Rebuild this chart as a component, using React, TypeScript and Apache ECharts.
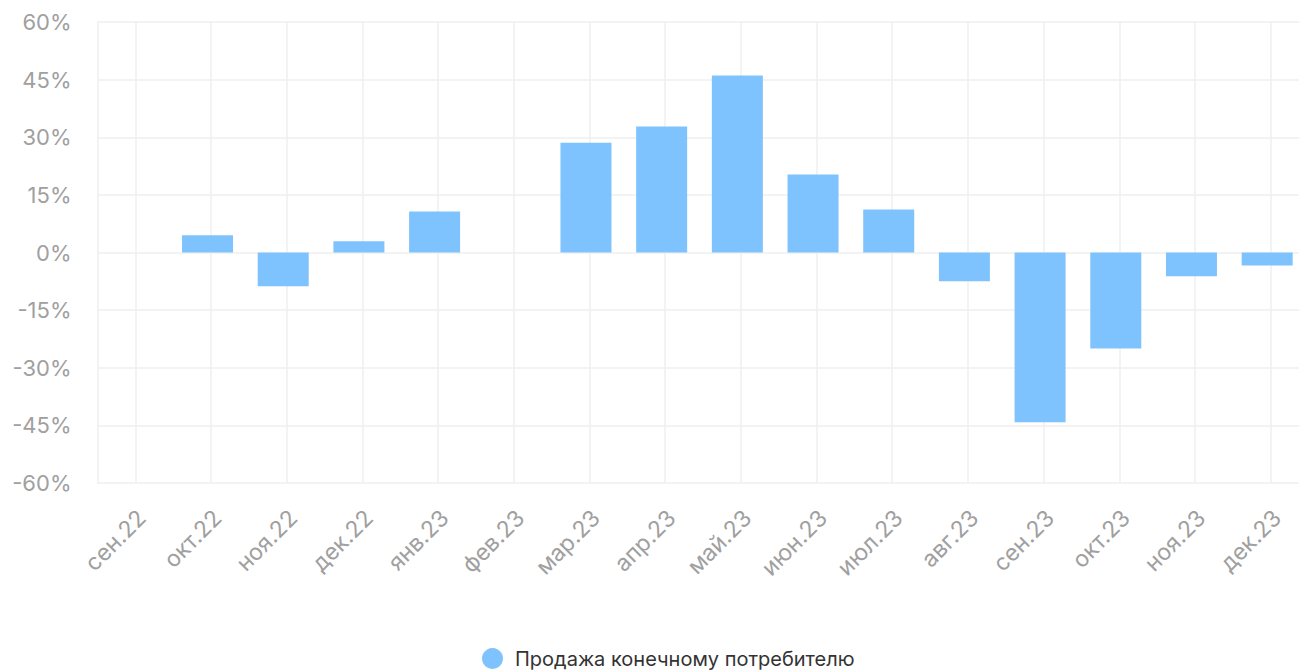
import React, { useEffect, useRef } from "react";
import * as echarts from "echarts";

// Monthly categories and year-on-year change, %
const months = [
  "сен.22", "окт.22", "ноя.22", "дек.22", "янв.23", "фев.23", "мар.23", "апр.23",
  "май.23", "июн.23", "июл.23", "авг.23", "сен.23", "окт.23", "ноя.23", "дек.23",
];
const retailSales = [
  0, 4.5, -8.8, 2.9, 10.7, 0, 28.6, 32.8,
  46.1, 20.3, 11.2, -7.5, -44.2, -25.0, -6.2, -3.4,
];
const seriesName = "Продажа конечному потребителю";
const yMin = -60;
const yMax = 60;
const yStep = 15;

const FONT = "Inter, 'Noto Sans', sans-serif";
const GRID_LINE = "#efefef";
const LABEL = "#a0a0a0";
const BAR = "#7ec3fd";

const PLOT_TOP = 22;
const PLOT_H = 461;
const PLOT_W = 1211;

const hiddenCategory = (gridIndex: number) => ({
  type: "category",
  gridIndex,
  data: months,
  axisLine: { show: false },
  axisTick: { show: false },
  axisLabel: { show: false },
  splitLine: { show: false },
});

const hiddenValue = (gridIndex: number) => ({
  type: "value",
  gridIndex,
  min: yMin,
  max: yMax,
  interval: yStep,
  axisLine: { show: false },
  axisTick: { show: false },
  axisLabel: { show: false },
  splitLine: { show: false },
});

export default function App() {
  const ref = useRef<HTMLDivElement>(null);

  useEffect(() => {
    if (!ref.current) return;
    const chart = echarts.init(ref.current, undefined, { renderer: "svg" });
    chart.setOption({
      animation: false,
      textStyle: { fontFamily: FONT },
      legend: {
        data: [seriesName],
        left: 482,
        top: 648,
        padding: 0,
        icon: "circle",
        itemWidth: 21,
        itemHeight: 21,
        formatter: (name: string) => `{gap|}{txt|${name}}`,
        textStyle: {
          fontFamily: FONT,
          fontSize: 20,
          lineHeight: 21,
          color: "#333333",
          rich: {
            gap: { width: 7, height: 21 },
            txt: {
              fontFamily: FONT,
              fontSize: 20,
              lineHeight: 21,
              color: "#333333",
            },
          },
        },
      },
      grid: [
        // bars
        { left: 94, top: PLOT_TOP, width: PLOT_W, height: PLOT_H },
        // grid lines and value labels
        { left: 97.5, top: PLOT_TOP, width: PLOT_W, height: PLOT_H },
        // month labels
        { left: 104, top: PLOT_TOP, width: PLOT_W, height: PLOT_H },
      ],
      xAxis: [
        hiddenCategory(0),
        {
          type: "category",
          gridIndex: 1,
          data: months,
          axisLine: { show: false },
          axisTick: { show: false },
          axisLabel: { show: false },
          splitLine: {
            show: true,
            interval: 0,
            alignWithLabel: true,
            lineStyle: { color: GRID_LINE, width: 1.5 },
          },
        },
        {
          type: "category",
          gridIndex: 2,
          data: months,
          axisLine: { show: false },
          axisTick: { show: false },
          axisLabel: {
            interval: 0,
            rotate: 45,
            margin: 31,
            color: LABEL,
            fontFamily: FONT,
            fontSize: 23,
          },
          splitLine: { show: false },
        },
      ],
      yAxis: [
        hiddenValue(0),
        {
          type: "value",
          gridIndex: 1,
          min: yMin,
          max: yMax,
          interval: yStep,
          axisLine: { show: true, lineStyle: { color: GRID_LINE, width: 1.5 } },
          axisTick: { show: false },
          axisLabel: {
            margin: 26,
            color: LABEL,
            fontFamily: FONT,
            fontSize: 22,
            formatter: (v: number) => `${v}%`,
          },
          splitLine: { show: true, lineStyle: { color: GRID_LINE, width: 1.5 } },
        },
        hiddenValue(2),
      ],
      series: [
        {
          name: seriesName,
          type: "bar",
          xAxisIndex: 0,
          yAxisIndex: 0,
          data: retailSales,
          barWidth: 51,
          itemStyle: { color: BAR },
          z: 3,
        },
      ],
    });
    return () => chart.dispose();
  }, []);

  return (
    <div
      style={{
        position: "fixed",
        left: 0,
        top: 0,
        width: 1299,
        height: 670,
        overflow: "hidden",
        background: "#fff",
      }}
    >
      <div ref={ref} style={{ width: 1330, height: 670 }} />
    </div>
  );
}
